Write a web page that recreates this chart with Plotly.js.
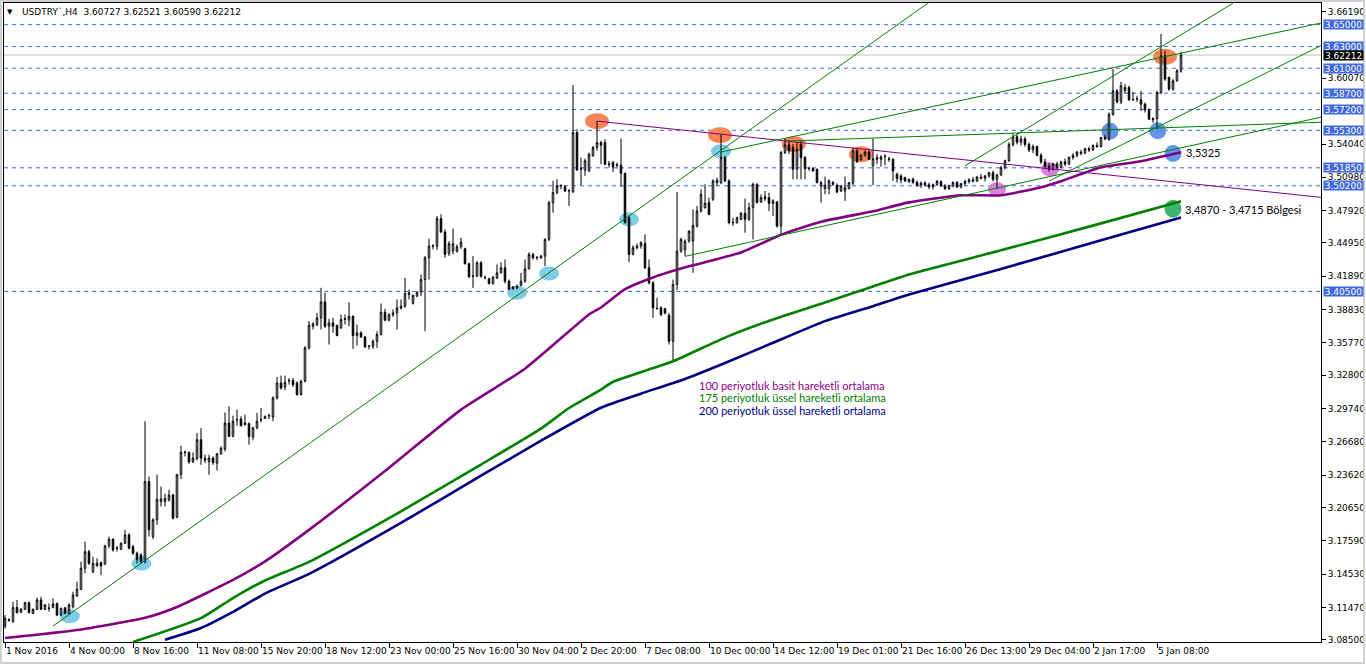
<!DOCTYPE html>
<html><head><meta charset="utf-8">
<script src="https://cdn.plot.ly/plotly-3.0.1.min.js"></script>
<style>html,body{margin:0;padding:0;background:#fff;overflow:hidden}#chart{width:1366px;height:665px}</style>
</head><body><div id="chart"></div>
<script>
// ---- OHLC (USDTRY H4), one value per bar ----
const open = [
3.0976,3.1035,3.1016,3.1148,3.1102,3.1130,3.1191,3.1093,3.1130,3.1216,
3.1130,3.1142,3.1148,3.1185,3.1078,3.1145,3.1093,3.1154,3.1252,3.1314,
3.1507,3.1660,3.1476,3.1529,3.1559,3.1547,3.1713,3.1774,3.1693,3.1682,
3.1737,3.1814,3.1706,3.1645,3.1630,3.1568,3.2304,3.1798,3.1952,3.2120,
3.2120,3.2136,3.2179,3.1976,3.2366,3.2571,3.2571,3.2485,3.2516,3.2688,
3.2498,3.2488,3.2519,3.2473,3.2559,3.2602,3.2841,3.2718,3.2869,3.2878,
3.2826,3.2835,3.2712,3.2795,3.2869,3.2884,3.2906,3.2896,3.3071,3.3209,
3.3172,3.3228,3.3231,3.3209,3.3102,3.3225,3.3531,3.3730,3.3746,3.3807,
3.3954,3.3730,3.3761,3.3737,3.3715,3.3792,3.3786,3.3822,3.3645,3.3669,
3.3632,3.3546,3.3546,3.3592,3.3654,3.3859,3.3786,3.3835,3.3853,3.3896,
3.3914,3.4022,3.3939,3.4006,3.4043,3.4160,3.4359,3.4466,3.4466,3.4718,
3.4595,3.4399,3.4420,3.4420,3.4460,3.4442,3.4304,3.4190,3.4190,3.4313,
3.4175,3.4166,3.4120,3.4172,3.4221,3.4267,3.4144,3.4074,3.4083,3.4105,
3.4144,3.4258,3.4390,3.4359,3.4359,3.4375,3.4528,3.4865,3.4957,3.5019,
3.5012,3.4973,3.4963,3.5509,3.5172,3.5166,3.5157,3.5295,3.5371,3.5417,
3.5417,3.5218,3.5233,3.5209,3.5209,3.5135,3.4727,3.4390,3.4451,3.4466,
3.4491,3.4267,3.4129,3.3890,3.3899,3.3890,3.3829,3.3592,3.4114,3.4420,
3.4430,3.4512,3.4512,3.4651,3.4789,3.4819,3.4865,3.4896,3.5049,3.5049,
3.5279,3.5065,3.4681,3.4681,3.4712,3.4767,3.4712,3.4819,3.5034,3.4871,
3.4902,3.4911,3.4859,3.4871,3.4651,3.5325,3.5396,3.5371,3.5172,3.5402,
3.5279,3.5178,3.5178,3.5172,3.5019,3.4994,3.4994,3.5049,3.5025,3.4973,
3.4973,3.4994,3.5043,3.5341,3.5258,3.5301,3.5331,3.5203,3.5264,3.5264,
3.5288,3.5264,3.5264,3.5126,3.5111,3.5095,3.5055,3.5080,3.5050,3.5025,
3.5045,3.5030,3.5010,3.5030,3.5060,3.5020,3.4995,3.5020,3.5050,3.5010,
3.5040,3.5060,3.5075,3.5065,3.5100,3.5090,3.5110,3.5140,3.5080,3.5120,
3.5190,3.5250,3.5400,3.5470,3.5420,3.5450,3.5400,3.5350,3.5380,3.5300,
3.5240,3.5200,3.5170,3.5220,3.5190,3.5240,3.5220,3.5280,3.5300,3.5330,
3.5320,3.5360,3.5350,3.5390,3.5380,3.5463,3.5448,3.5678,3.5893,3.5791,
3.5893,3.5923,3.5810,3.5816,3.5810,3.5770,3.5718,3.5638,3.5638,3.5877,
3.6215,3.6015,3.5908,3.5985,3.60727];
const high = [
3.1078,3.1047,3.1200,3.1216,3.1139,3.1200,3.1200,3.1139,3.1237,3.1246,
3.1179,3.1185,3.1231,3.1191,3.1145,3.1150,3.1185,3.1292,3.1384,3.1568,
3.1752,3.1676,3.1614,3.1599,3.1568,3.1722,3.1798,3.1783,3.1713,3.1745,
3.1860,3.1829,3.1722,3.1660,3.1645,3.2857,3.2350,3.1967,3.2366,3.2258,
3.2191,3.2228,3.2191,3.2375,3.2633,3.2587,3.2580,3.2571,3.2749,3.2795,
3.2550,3.2550,3.2534,3.2565,3.2627,3.2939,3.2995,3.2909,3.2964,3.2903,
3.2918,3.2847,3.2810,3.2933,3.2979,3.2909,3.2927,3.3087,3.3264,3.3277,
3.3277,3.3255,3.3255,3.3225,3.3240,3.3547,3.3777,3.3767,3.3853,3.4083,
3.4037,3.3798,3.3807,3.3746,3.3838,3.3838,3.3951,3.3829,3.3746,3.3684,
3.3638,3.3553,3.3608,3.3684,3.3939,3.3890,3.3853,3.3884,3.3976,3.3976,
3.4175,3.4068,3.4022,3.4050,3.4206,3.4375,3.4534,3.4482,3.4743,3.4758,
3.4620,3.4512,3.4626,3.4482,3.4543,3.4451,3.4313,3.4375,3.4328,3.4328,
3.4196,3.4175,3.4190,3.4298,3.4319,3.4344,3.4160,3.4098,3.4114,3.4221,
3.4344,3.4411,3.4405,3.4375,3.4385,3.4537,3.4881,3.5065,3.5080,3.5034,
3.5025,3.4988,3.5945,3.5540,3.5279,3.5270,3.5325,3.5387,3.5617,3.5433,
3.5448,3.5249,3.5249,3.5233,3.5454,3.5141,3.4743,3.4473,3.4491,3.4512,
3.4574,3.4344,3.4144,3.3991,3.3914,3.3899,3.3853,3.4160,3.4963,3.4543,
3.4528,3.4610,3.4804,3.4835,3.4988,3.5034,3.4911,3.5080,3.5095,3.5494,
3.5294,3.5080,3.4727,3.4737,3.4779,3.4902,3.4865,3.5049,3.5043,3.4942,
3.4973,3.4957,3.4896,3.4881,3.5341,3.5454,3.5433,3.5402,3.5417,3.5433,
3.5294,3.5196,3.5187,3.5178,3.5065,3.5104,3.5080,3.5065,3.5043,3.5025,
3.5104,3.5055,3.5371,3.5356,3.5310,3.5341,3.5341,3.5454,3.5310,3.5301,
3.5310,3.5288,3.5270,3.5141,3.5126,3.5104,3.5086,3.5095,3.5070,3.5060,
3.5065,3.5050,3.5040,3.5075,3.5070,3.5035,3.5030,3.5060,3.5065,3.5045,
3.5075,3.5090,3.5100,3.5110,3.5130,3.5120,3.5150,3.5160,3.5130,3.5200,
3.5260,3.5420,3.5500,3.5500,3.5480,3.5470,3.5420,3.5400,3.5390,3.5320,
3.5270,3.5230,3.5230,3.5240,3.5250,3.5270,3.5290,3.5320,3.5340,3.5350,
3.5370,3.5380,3.5400,3.5420,3.5470,3.5490,3.5693,3.6092,3.5908,3.5975,
3.5954,3.5939,3.5883,3.5847,3.5893,3.5785,3.5730,3.5650,3.5893,3.6414,
3.6261,3.6024,3.6000,3.6092,3.62521];
const low = [
3.0955,3.1016,3.1007,3.1093,3.1099,3.1124,3.1093,3.1086,3.1124,3.1124,
3.1124,3.1108,3.1139,3.1068,3.1070,3.1086,3.1078,3.1139,3.1246,3.1308,
3.1461,3.1538,3.1461,3.1522,3.1446,3.1538,3.1691,3.1660,3.1660,3.1676,
3.1731,3.1682,3.1630,3.1553,3.1553,3.1553,3.1798,3.1774,3.1906,3.2074,
3.2074,3.2120,3.1958,3.1967,3.2326,3.2534,3.2467,3.2473,3.2498,3.2458,
3.2473,3.2366,3.2458,3.2406,3.2550,3.2580,3.2712,3.2712,3.2817,3.2810,
3.2817,3.2642,3.2682,3.2786,3.2847,3.2878,3.2878,3.2857,3.3056,3.3148,
3.3142,3.3194,3.3172,3.3093,3.3093,3.3215,3.3516,3.3700,3.3730,3.3700,
3.3715,3.3562,3.3669,3.3638,3.3706,3.3746,3.3730,3.3522,3.3553,3.3623,
3.3531,3.3516,3.3522,3.3531,3.3645,3.3776,3.3776,3.3816,3.3700,3.3884,
3.3899,3.3976,3.3930,3.4000,3.4006,3.3684,3.4160,3.4436,3.4430,3.4589,
3.4359,3.4375,3.4390,3.4405,3.4442,3.4298,3.4175,3.4083,3.4184,3.4175,
3.4160,3.4114,3.4114,3.4166,3.4215,3.4123,3.4062,3.4068,3.4068,3.4098,
3.4129,3.4252,3.4344,3.4338,3.4350,3.4282,3.4512,3.4773,3.4942,3.4988,
3.4963,3.4835,3.4957,3.5157,3.5025,3.5111,3.5147,3.5288,3.5341,3.5218,
3.5209,3.5187,3.5147,3.5178,3.5012,3.4675,3.4319,3.4381,3.4436,3.4442,
3.4258,3.4114,3.3807,3.3884,3.3822,3.3838,3.3562,3.3408,3.4062,3.4405,
3.4374,3.4497,3.4221,3.4635,3.4773,3.4810,3.4750,3.4881,3.5019,3.5034,
3.5055,3.4666,3.4651,3.4672,3.4706,3.4589,3.4697,3.4528,3.4859,3.4865,
3.4881,3.4789,3.4743,3.4635,3.4574,3.5310,3.5310,3.5080,3.5080,3.5080,
3.5080,3.5157,3.5150,3.5043,3.4865,3.4942,3.4942,3.5019,3.4951,3.4963,
3.4881,3.4988,3.5025,3.5233,3.5252,3.5288,3.5258,3.5025,3.5218,3.5196,
3.5209,3.5239,3.5065,3.5049,3.5043,3.5055,3.5049,3.5040,3.5010,3.5000,
3.5015,3.4990,3.4985,3.5020,3.5010,3.4980,3.4980,3.5005,3.5000,3.4995,
3.5020,3.5040,3.5050,3.5055,3.5080,3.5060,3.5095,3.5060,3.4995,3.5110,
3.5170,3.5240,3.5380,3.5400,3.5390,3.5380,3.5330,3.5320,3.5290,3.5220,
3.5180,3.5150,3.5160,3.5170,3.5180,3.5200,3.5210,3.5260,3.5280,3.5300,
3.5310,3.5330,3.5340,3.5370,3.5370,3.5440,3.5433,3.5663,3.5779,3.5770,
3.5871,3.5801,3.5801,3.5791,3.5709,3.5693,3.5626,3.5600,3.5540,3.5862,
3.5985,3.5893,3.5893,3.5975,3.60590];
const close = [
3.1047,3.1030,3.1148,3.1099,3.1133,3.1191,3.1099,3.1130,3.1216,3.1130,
3.1170,3.1139,3.1179,3.1078,3.1139,3.1093,3.1170,3.1262,3.1314,3.1507,
3.1660,3.1553,3.1553,3.1553,3.1529,3.1713,3.1774,3.1676,3.1690,3.1737,
3.1814,3.1691,3.1645,3.1590,3.1568,3.2304,3.1860,3.1952,3.2142,3.2142,
3.2148,3.2179,3.1967,3.2366,3.2571,3.2574,3.2485,3.2519,3.2688,3.2519,
3.2519,3.2519,3.2479,3.2559,3.2611,3.2841,3.2718,3.2857,3.2872,3.2817,
3.2841,3.2718,3.2795,3.2857,3.2872,3.2903,3.2909,3.3071,3.3209,3.3163,
3.3215,3.3231,3.3194,3.3102,3.3225,3.3531,3.3738,3.3752,3.3807,3.3954,
3.3730,3.3761,3.3730,3.3645,3.3792,3.3798,3.3822,3.3645,3.3669,3.3632,
3.3540,3.3549,3.3592,3.3654,3.3859,3.3786,3.3835,3.3853,3.3899,3.3914,
3.4028,3.4037,3.4013,3.4043,3.4160,3.4359,3.4466,3.4469,3.4718,3.4595,
3.4390,3.4488,3.4488,3.4460,3.4503,3.4304,3.4184,3.4193,3.4313,3.4190,
3.4178,3.4123,3.4181,3.4221,3.4267,3.4144,3.4068,3.4092,3.4098,3.4144,
3.4258,3.4390,3.4359,3.4362,3.4375,3.4528,3.4865,3.4957,3.5019,3.5022,
3.4973,3.4976,3.5509,3.5166,3.5175,3.5249,3.5310,3.5371,3.5417,3.5393,
3.5218,3.5221,3.5196,3.5212,3.5135,3.4681,3.4390,3.4451,3.4466,3.4497,
3.4267,3.4129,3.3899,3.3893,3.3838,3.3853,3.3592,3.4114,3.4420,3.4528,
3.4512,3.4604,3.4657,3.4789,3.4942,3.4859,3.4758,3.5065,3.5071,3.5279,
3.5065,3.4681,3.4684,3.4727,3.4767,3.4712,3.4819,3.5034,3.4865,3.4911,
3.4920,3.4859,3.4881,3.4651,3.5325,3.5396,3.5341,3.5172,3.5356,3.5279,
3.5178,3.5181,3.5157,3.5049,3.5049,3.5025,3.5065,3.5034,3.4963,3.5019,
3.5003,3.5049,3.5341,3.5239,3.5301,3.5331,3.5264,3.5270,3.5279,3.5285,
3.5291,3.5267,3.5157,3.5086,3.5074,3.5065,3.5080,3.5050,3.5025,3.5045,
3.5030,3.5010,3.5030,3.5060,3.5020,3.4995,3.5020,3.5050,3.5010,3.5040,
3.5060,3.5075,3.5065,3.5100,3.5090,3.5110,3.5140,3.5080,3.5120,3.5190,
3.5250,3.5400,3.5470,3.5420,3.5450,3.5400,3.5350,3.5380,3.5300,3.5240,
3.5200,3.5170,3.5220,3.5190,3.5240,3.5220,3.5280,3.5300,3.5330,3.5320,
3.5360,3.5350,3.5390,3.5380,3.5463,3.5450,3.5678,3.5893,3.5791,3.5939,
3.5923,3.5810,3.5813,3.5819,3.5770,3.5718,3.5632,3.5626,3.5877,3.6215,
3.6000,3.5908,3.5985,3.6077,3.62212];

// ---- time axis labels (every 16 bars) ----
const dateTickBars = [0,16,32,48,64,80,96,112,128,144,160,176,192,208,224,240,256,272,288];
const dateTickLabels = ["1 Nov 2016","4 Nov 00:00","8 Nov 16:00","11 Nov 08:00","15 Nov 20:00","18 Nov 12:00",
  "23 Nov 00:00","25 Nov 16:00","30 Nov 04:00","2 Dec 20:00","7 Dec 08:00","10 Dec 00:00","14 Dec 12:00",
  "19 Dec 01:00","21 Dec 16:00","26 Dec 13:00","29 Dec 04:00","2 Jan 17:00","5 Jan 08:00"];

// ---- price scale ticks (those hidden by level labels omitted) ----
const priceTicks = [3.66190,3.60070,3.54040,3.50980,3.47920,3.44950,3.41890,3.38830,
  3.35770,3.32800,3.29740,3.26680,3.23620,3.20650,3.17590,3.14530,3.11470,3.08500];

// ---- horizontal levels ----
const levels = [3.65000,3.63000,3.61000,3.58700,3.57200,3.55300,3.51850,3.50200,3.40500];
const lastPrice = 3.62212;

// ---- moving averages (sampled bars) ----
const sma100Bar = [0,18,35,43,57,65,76,95,114,130,146,149,155,162,171,184,194,204,217,226,239,249,259,264,274,284,294];
const sma100Val = [3.0866,3.0940,3.1052,3.1152,3.1400,3.1570,3.1860,3.2400,3.2964,3.3340,3.3838,3.3902,3.4070,3.4178,3.4280,3.4408,3.4570,3.4690,3.4786,3.4868,3.4933,3.4933,3.5006,3.5062,3.5190,3.5246,3.5328];
const ema175Bar = [32,49,57,65,76,99,119,134,141,149,152,167,180,192,205,217,226,249,274,294];
const ema175Val = [3.0830,3.1050,3.1234,3.1395,3.1566,3.2030,3.2460,3.2790,3.2979,3.3148,3.3220,3.3408,3.3626,3.3792,3.3948,3.4096,3.4206,3.4428,3.4675,3.4878];
const ema200Bar = [40,49,57,65,76,99,119,134,149,159,170,180,192,205,217,226,249,274,294];
const ema200Val = [3.0850,3.0958,3.1106,3.1275,3.1455,3.1924,3.2357,3.2679,3.2982,3.3111,3.3246,3.3393,3.3578,3.3777,3.3914,3.4022,3.4257,3.4519,3.4730];

// ---- trend lines (bar, price) ----
const tlBar0 = [12, 178.75, 195, 170, 240, 261, 148];
const tlVal0 = [3.0977, 3.5328, 3.5430, 3.4372, 3.5203, 3.5064, 3.5614];
const tlBar1 = [235, 329, 329, 329, 307, 329, 329];
const tlVal1 = [3.6810, 3.6515, 3.5604, 3.5650, 3.6697, 3.6308, 3.4914];
const tlColor = ["#008000","#008000","#008000","#008000","#008000","#008000","#800080"];

// ---- highlight ellipses ----
const orangeBar = [148, 178.75, 197.2, 214, 290];
const orangeVal = [3.5614, 3.5485, 3.5402, 3.5310, 3.6205];
const skyBar = [16.2, 34.1, 128, 136, 156, 179];
const skyVal = [3.1066, 3.1550, 3.4038, 3.4215, 3.4712, 3.5338];
const blueBar = [276.25, 288.2, 292];
const blueVal = [3.5522, 3.5525, 3.5317];
const pinkBar = [248, 261.25];
const pinkVal = [3.4988, 3.5172];
const greenBar = [292];
const greenVal = [3.4810];

const FONT = "DejaVu Sans";
const bars = open.map((_, i) => i);
const traces = [];

traces.push({type:'scatter',mode:'lines',x:sma100Bar,y:sma100Val,line:{color:'#800080',width:2.6,shape:'spline',smoothing:0.5},hoverinfo:'skip'});
traces.push({type:'scatter',mode:'lines',x:ema175Bar,y:ema175Val,line:{color:'#008000',width:2.6,shape:'spline',smoothing:0.5},hoverinfo:'skip'});
traces.push({type:'scatter',mode:'lines',x:ema200Bar,y:ema200Val,line:{color:'#000080',width:2.6,shape:'spline',smoothing:0.5},hoverinfo:'skip'});
for (let k = 0; k < tlBar0.length; k++) {
  traces.push({type:'scatter',mode:'lines',x:[tlBar0[k],tlBar1[k]],y:[tlVal0[k],tlVal1[k]],
    line:{color:tlColor[k],width:1},hoverinfo:'skip'});
}
traces.push({type:'candlestick',x:bars,open:open,high:high,low:low,close:close,
  increasing:{line:{color:'#000000',width:1},fillcolor:'#ffffff'},
  decreasing:{line:{color:'#000000',width:1},fillcolor:'#000000'},
  whiskerwidth:0,hoverinfo:'skip'});

const shapes = [];
levels.forEach(v => shapes.push({type:'line',xref:'paper',x0:0,x1:1,yref:'y',y0:v,y1:v,
  line:{color:'#4169E1',width:1,dash:'4px,4px'},layer:'below'}));
shapes.push({type:'line',xref:'paper',x0:0,x1:1,yref:'y',y0:lastPrice,y1:lastPrice,
  line:{color:'#C0C0C0',width:1},layer:'below'});
function ell(bx, by, col, w, h) {
  bx.forEach((b, i) => shapes.push({type:'circle',xref:'x',yref:'y',xsizemode:'pixel',ysizemode:'pixel',
    xanchor:b,yanchor:by[i],x0:-w/2,x1:w/2,y0:-h/2,y1:h/2,fillcolor:col,line:{width:0},layer:'below'}));
}
ell(orangeBar, orangeVal, '#F98456', 24, 16);
ell(skyBar, skyVal, '#7FCBEA', 20, 14);
ell(blueBar, blueVal, '#6495ED', 17, 17);
ell(pinkBar, pinkVal, '#DD7FE0', 18, 14);
ell(greenBar, greenVal, '#3CB371', 17, 18);
// window frame
shapes.push({type:'rect',xref:'paper',yref:'paper',x0:-0.0023,x1:1.0327,y0:-0.0329,y1:1.0031,
  line:{color:'#D0D0D0',width:2},fillcolor:'rgba(0,0,0,0)'});

const annotations = [];
levels.forEach(v => annotations.push({xref:'paper',x:1,xanchor:'left',xshift:2,yref:'y',y:v,yanchor:'middle',
  text:v.toFixed(5),showarrow:false,bgcolor:'#4169E1',font:{family:FONT,size:9,color:'#ffffff'},
  width:39,height:9,borderpad:0}));
annotations.push({xref:'paper',x:1,xanchor:'left',xshift:2,yref:'y',y:lastPrice,yanchor:'middle',
  text:lastPrice.toFixed(5),showarrow:false,bgcolor:'#000000',font:{family:FONT,size:9,color:'#ffffff'},
  width:39,height:9,borderpad:0});
annotations.push({xref:'paper',x:0.0046,xanchor:'center',yref:'paper',y:0.9859,yanchor:'middle',
  text:'▼',showarrow:false,font:{family:FONT,size:7,color:'#000000'}});
annotations.push({xref:'paper',x:0.0122,xanchor:'left',yref:'paper',y:0.9859,yanchor:'middle',
  text:'USDTRY`,H4\u00a0\u00a03.60727 3.62521 3.60590 3.62212',showarrow:false,font:{family:FONT,size:9,color:'#000000'}});
annotations.push({xref:'x',x:294.8,xanchor:'left',yref:'y',y:3.5328,yanchor:'middle',
  text:'3,5325',showarrow:false,font:{family:'Lato',size:11,color:'#000000'}});
annotations.push({xref:'x',x:294.5,xanchor:'left',yref:'y',y:3.4804,yanchor:'middle',
  text:'3,4870 - 3,4715 Bölgesi',showarrow:false,font:{family:'Lato',size:11,color:'#000000'}});
annotations.push({xref:'x',x:173,xanchor:'left',yref:'y',y:3.3185,yanchor:'middle',
  text:'100 periyotluk basit hareketli ortalama',showarrow:false,font:{family:'Lato',size:11,color:'#8B008B'}});
annotations.push({xref:'x',x:173,xanchor:'left',yref:'y',y:3.3074,yanchor:'middle',
  text:'175 periyotluk üssel hareketli ortalama',showarrow:false,font:{family:'Lato',size:11,color:'#008000'}});
annotations.push({xref:'x',x:173,xanchor:'left',yref:'y',y:3.2955,yanchor:'middle',
  text:'200 periyotluk üssel hareketli ortalama',showarrow:false,font:{family:'Lato',size:11,color:'#00008B'}});

const layout = {
  width:1366, height:665,
  margin:{l:4,r:45,t:3,b:23,pad:0},
  paper_bgcolor:'#ffffff', plot_bgcolor:'#ffffff',
  showlegend:false, boxgap:0.45, hovermode:false,
  xaxis:{type:'linear',range:[-0.25,329],showgrid:false,zeroline:false,
    showline:true,mirror:true,linecolor:'#000000',linewidth:1,
    tickmode:'array',tickvals:dateTickBars,ticktext:dateTickLabels,
    ticks:'outside',ticklen:5,tickcolor:'#000000',tickangle:0,
    ticklabelposition:'outside right',
    tickfont:{family:FONT,size:9,color:'#000000'},rangeslider:{visible:false}},
  yaxis:{side:'right',range:[3.0830,3.6699],showgrid:false,zeroline:false,
    showline:true,mirror:true,linecolor:'#000000',linewidth:1,
    tickmode:'array',tickvals:priceTicks,ticktext:priceTicks.map(v=>v.toFixed(5)),
    ticks:'outside',ticklen:4,tickcolor:'#000000',
    tickfont:{family:FONT,size:9,color:'#000000'}},
  shapes:shapes, annotations:annotations
};
Plotly.newPlot('chart', traces, layout, {staticPlot:true,displayModeBar:false});
</script></body></html>
